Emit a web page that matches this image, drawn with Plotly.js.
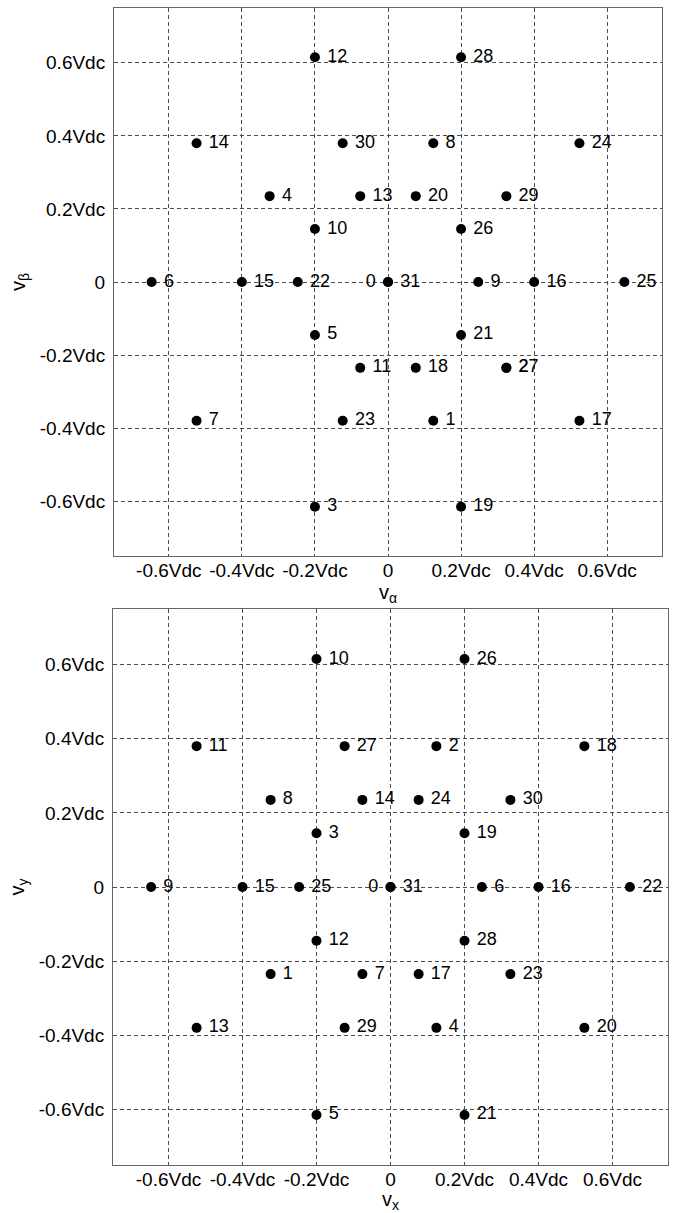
<!DOCTYPE html>
<html>
<head>
<meta charset="utf-8">
<script src="https://cdn.plot.ly/plotly-3.0.1.min.js"></script>
<style>
  html, body { margin: 0; padding: 0; background: #fff; }
  #chart { width: 674px; height: 1213px; }
</style>
</head>
<body>
<div id="chart"></div>
<script>
// Switching-state voltage vectors of a five-phase inverter,
// mapped into the alpha-beta plane and into the x-y plane.

// alpha-beta plane
const abAlpha = [0.124, 0.324, -0.2, -0.324, -0.2, -0.647, -0.524, 0.124,
                 0.247, -0.2, -0.076, -0.2, -0.076, -0.524, -0.4,
                 0.4, 0.524, 0.076, 0.2, 0.076, 0.2, -0.247, -0.124,
                 0.524, 0.647, 0.2, 0.324, 0.2, 0.324, -0.124, 0];
const abBeta  = [-0.38, -0.235, -0.615, 0.235, -0.145, 0, -0.38, 0.38,
                 0, 0.145, -0.235, 0.615, 0.235, 0.38, 0,
                 0, -0.38, -0.235, -0.615, 0.235, -0.145, 0, -0.38,
                 0.38, 0, 0.145, -0.235, 0.615, 0.235, 0.38, 0];
const abLabels = ['1', '2', '3', '4', '5', '6', '7', '8',
                  '9', '10', '11', '12', '13', '14', '15',
                  '16', '17', '18', '19', '20', '21', '22', '23',
                  '24', '25', '26', '27', '28', '29', '30', '31'];

// x-y plane
const xyX = [-0.324, 0.124, -0.2, 0.124, -0.2, 0.247, -0.076, -0.324,
             -0.647, -0.2, -0.524, -0.2, -0.524, -0.076, -0.4,
             0.4, 0.076, 0.524, 0.2, 0.524, 0.2, 0.647, 0.324,
             0.076, -0.247, 0.2, -0.124, 0.2, -0.124, 0.324, 0];
const xyY = [-0.235, 0.38, 0.145, -0.38, -0.615, 0, -0.235, 0.235,
             0, 0.615, 0.38, -0.145, -0.38, 0.235, 0,
             0, -0.235, 0.38, 0.145, -0.38, -0.615, 0, -0.235,
             0.235, 0, 0.615, 0.38, -0.145, -0.38, 0.235, 0];
const xyLabels = ['1', '2', '3', '4', '5', '6', '7', '8',
                  '9', '10', '11', '12', '13', '14', '15',
                  '16', '17', '18', '19', '20', '21', '22', '23',
                  '24', '25', '26', '27', '28', '29', '30', '31'];

// zero vector, labelled on the left of the origin
const zeroX = [0];
const zeroY = [0];
const zeroLabel = ['0'];

// tick labels
const tickVals = [-0.6, -0.4, -0.2, 0, 0.2, 0.4, 0.6];
const tickText = ['-0.6Vdc', '-0.4Vdc', '-0.2Vdc', '0', '0.2Vdc', '0.4Vdc', '0.6Vdc'];

const FONT = 'Liberation Sans, Arial, sans-serif';
const W = 674, H = 1213;

const marker = { color: '#000', size: 10, line: { width: 0 } };
const textFont = { family: FONT, size: 18, color: '#000' };

function pts(x, y, text, xa, ya, pos) {
  return {
    type: 'scatter', mode: 'markers+text',
    x: x, y: y, text: text.map(t => pos === 'middle right' ? ' ' + t : t + ' '),
    textposition: pos, textfont: textFont,
    marker: marker, xaxis: xa, yaxis: ya,
    hoverinfo: 'skip', showlegend: false, cliponaxis: false
  };
}

const traces = [
  pts(abAlpha, abBeta, abLabels, 'x', 'y', 'middle right'),
  pts(zeroX, zeroY, zeroLabel, 'x', 'y', 'middle left'),
  pts(xyX, xyY, xyLabels, 'x2', 'y2', 'middle right'),
  pts(zeroX, zeroY, zeroLabel, 'x2', 'y2', 'middle left')
];

function axis(domain, titleText, anchor, isY) {
  return {
    domain: domain, anchor: anchor,
    range: [-0.75, 0.75], autorange: false, fixedrange: true,
    tickmode: 'array', tickvals: tickVals, ticktext: tickText,
    tickfont: { family: FONT, size: 19, color: '#000' },
    ticks: '', ticklen: 0,
    ticklabelstandoff: isY ? 4 : -3,
    showgrid: true, gridcolor: '#4d4d4d', gridwidth: 1, griddash: '4px,3px',
    zeroline: false,
    showline: true, linecolor: '#666', linewidth: 1, mirror: true,
    automargin: false,
    title: { text: titleText, font: { family: FONT, size: 20, color: '#000' }, standoff: isY ? 8 : 0 }
  };
}

const layout = {
  width: W, height: H,
  margin: { l: 0, r: 0, t: 0, b: 0 },
  paper_bgcolor: '#fff', plot_bgcolor: '#fff',
  showlegend: false,
  xaxis:  axis([114 / W, 662 / W], 'v<sub>α</sub>', 'y', false),
  yaxis:  axis([1 - 556 / H, 1 - 8 / H], 'v<sub>β</sub>', 'x', true),
  xaxis2: axis([113 / W, 668 / W], 'v<sub>x</sub>', 'y2', false),
  yaxis2: axis([1 - 1165 / H, 1 - 609 / H], 'v<sub>y</sub>', 'x2', true)
};

Plotly.newPlot('chart', traces, layout, { staticPlot: true, displayModeBar: false });
</script>
</body>
</html>
